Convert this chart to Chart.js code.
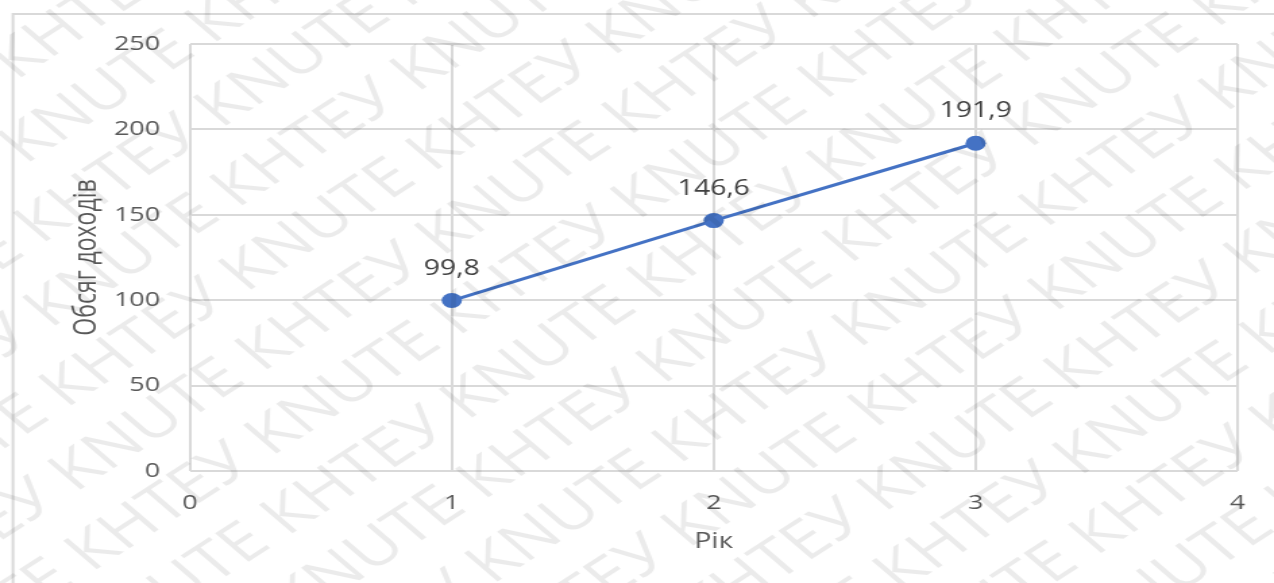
<!DOCTYPE html>
<html>
<head>
<meta charset="utf-8">
<script src="https://cdn.jsdelivr.net/npm/chart.js@4.4.1/dist/chart.umd.min.js"></script>
<style>
  html, body { margin: 0; padding: 0; background: #ffffff; overflow: hidden; }
  #wrap { width: 1274px; height: 583px; position: relative; overflow: hidden; }
  /* the drawing is widened horizontally to fill the frame */
  #chart { position: absolute; left: 0; top: 0; transform-origin: 0 0; }
</style>
</head>
<body>
<div id="wrap"><canvas id="chart"></canvas></div>
<script>
// Income volume by year
const years = [1, 2, 3];
const income = [99.8, 146.6, 191.9];
const xTicks = [0, 1, 2, 3, 4];
const yTicks = [0, 50, 100, 150, 200, 250];
const xTitle = 'Рік';
const yTitle = 'Обсяг доходів';
const watermarkText = 'KNUTE КНТЕУ ';

const CANVAS_W = 944;
const CANVAS_H = 583;
const STRETCH = 1274 / CANVAS_W;

const canvas = document.getElementById('chart');
canvas.width = CANVAS_W;
canvas.height = CANVAS_H;
canvas.style.width = CANVAS_W + 'px';
canvas.style.height = CANVAS_H + 'px';
canvas.style.transform = 'scaleX(' + STRETCH + ')';

const points = years.map((x, i) => ({ x: x, y: income[i] }));
const fmt = v => v.toFixed(1).replace('.', ',');

const FONT = '"Open Sans", "Noto Sans", sans-serif';
const GRID = '#d9d9d9';
const TEXT = '#595959';

// Frame of the chart area, open to the right and bottom
const framePlugin = {
  id: 'frame',
  beforeDraw(chart) {
    const ctx = chart.ctx;
    ctx.save();
    ctx.fillStyle = '#ffffff';
    ctx.fillRect(0, 0, chart.width, chart.height);
    ctx.strokeStyle = GRID;
    ctx.lineWidth = 2;
    ctx.strokeRect(9.6, 14, chart.width + 40, chart.height + 40);
    ctx.restore();
  }
};

// Value labels above each point
const labelPlugin = {
  id: 'valueLabels',
  afterDatasetsDraw(chart) {
    const ctx = chart.ctx;
    const meta = chart.getDatasetMeta(0);
    ctx.save();
    ctx.font = '21px ' + FONT;
    ctx.fillStyle = '#404040';
    ctx.textAlign = 'center';
    ctx.textBaseline = 'middle';
    meta.data.forEach((pt, i) => {
      ctx.fillText(fmt(income[i]), pt.x, pt.y - 32);
    });
    ctx.restore();
  }
};

// Diagonal repeated watermark
const watermarkPlugin = {
  id: 'watermark',
  afterDraw(chart) {
    const ctx = chart.ctx;
    ctx.save();
    ctx.fillStyle = 'rgba(0,0,0,0.08)';
    ctx.font = '53px ' + FONT;
    ctx.textBaseline = 'middle';
    ctx.translate(chart.width / 2, chart.height / 2);
    ctx.rotate(-41 * Math.PI / 180);
    const line = watermarkText.repeat(9);
    const w = ctx.measureText(line).width;
    const unit = ctx.measureText(watermarkText).width;
    for (let r = -11; r <= 11; r++) {
      const off = (r * unit * 0.37) % unit;
      ctx.fillText(line, -w / 2 + off, r * 68);
    }
    ctx.restore();
  }
};

new Chart(canvas, {
  type: 'scatter',
  data: {
    datasets: [{
      data: points,
      showLine: true,
      borderColor: '#4472c4',
      backgroundColor: '#4472c4',
      borderWidth: 3,
      pointRadius: 7.5,
      pointHoverRadius: 7.5,
      pointBorderWidth: 0
    }]
  },
  options: {
    responsive: false,
    animation: false,
    devicePixelRatio: 1,
    layout: { padding: { left: 47, right: 27, top: 44, bottom: 20 } },
    plugins: { legend: { display: false }, tooltip: { enabled: false } },
    scales: {
      x: {
        type: 'linear',
        min: xTicks[0],
        max: xTicks[xTicks.length - 1],
        afterBuildTicks: s => { s.ticks = xTicks.map(v => ({ value: v })); },
        afterFit: s => { s.height = 92; },
        border: { display: false },
        grid: { color: GRID, lineWidth: 2, drawTicks: false },
        ticks: { color: TEXT, font: { family: FONT, size: 20 }, padding: 20 },
        title: { display: true, text: xTitle, color: TEXT, font: { family: FONT, size: 21 }, padding: { top: 4, bottom: 8 } }
      },
      y: {
        type: 'linear',
        min: yTicks[0],
        max: yTicks[yTicks.length - 1],
        afterBuildTicks: s => { s.ticks = yTicks.map(v => ({ value: v })); },
        afterFit: s => { s.width = 93.7; },
        border: { display: false },
        grid: { color: GRID, lineWidth: 2, drawTicks: false },
        ticks: { color: TEXT, font: { family: FONT, size: 20 }, padding: 22 },
        title: { display: true, text: yTitle, color: TEXT, font: { family: FONT, size: 23 }, padding: { top: 4, bottom: 0 } }
      }
    }
  },
  plugins: [framePlugin, labelPlugin, watermarkPlugin]
});
</script>
</body>
</html>
